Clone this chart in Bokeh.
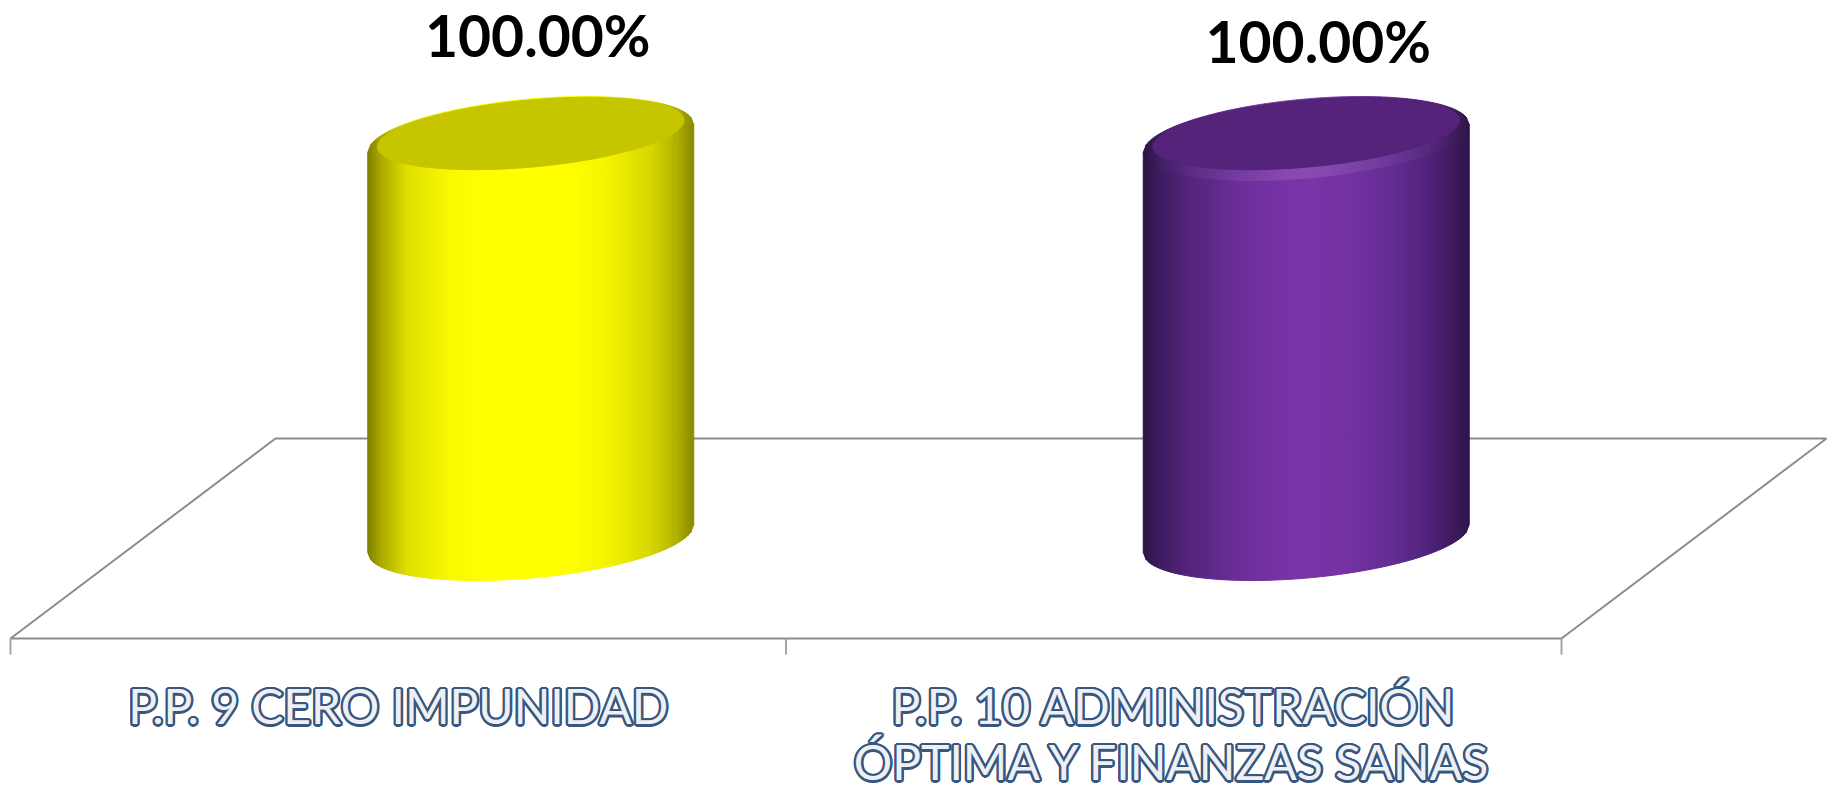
import numpy as np
from bokeh.plotting import figure
from bokeh.models import Range1d, ColumnDataSource
from bokeh.core.properties import value
from bokeh.embed import file_html
from bokeh.resources import INLINE

# ---------------- data ----------------
categories = ["P.P. 9 CERO IMPUNIDAD", "P.P. 10 ADMINISTRACIÓN\nÓPTIMA Y FINANZAS SANAS"]
percent_values = [100.0, 100.0]
value_labels = ["100.00%", "100.00%"]

# ---------------- styles / layout ----------------
YELLOW_STOPS = [(0.00, "#7d7d00"), (0.04, "#a8a800"), (0.12, "#dede00"), (0.25, "#f8f800"),
                (0.35, "#ffff00"), (0.62, "#ffff00"), (0.75, "#f2f200"), (0.87, "#d6d600"),
                (0.95, "#b0b000"), (1.00, "#8a8a00")]
PURPLE_STOPS = [(0.00, "#2b1245"), (0.05, "#3d1c60"), (0.15, "#56257f"), (0.30, "#6c2e9a"),
                (0.45, "#7834a8"), (0.60, "#7633a6"), (0.75, "#662d94"), (0.88, "#50237a"),
                (0.96, "#3c1a5c"), (1.00, "#2e1448")]
BODY_STOPS = [YELLOW_STOPS, PURPLE_STOPS]
FACE_COLORS = ["#c5c500", "#55247a"]
RIM_LIGHTEN = [0.0, 0.12]

W, H = 1834, 794
PX_X = 775.5          # pixels per category
PX_Y = 4.0            # pixels per percent
X0_PX = 10.0          # frame pixel of x = 0
Y0_PX = 538.0         # frame pixel (from top) of value 0
DEPTH_PX_X = 265.0    # horizontal shift of the floor depth
FLOOR_HALF_PX = 100.0 # half vertical depth of the floor
TICK_PX = 16.0

ELL_W, ELL_H, ELL_TILT = 163.0, 42.0, 14.0   # half width, half height, side-tangent offset (px)
_num = ELL_TILT * ELL_W
_d = ELL_W ** 2 - ELL_H ** 2
ELL_TH = 0.5 * np.arctan2(2 * _num, _d)
_diff = np.hypot(_d, 2 * _num)
_sum = ELL_W ** 2 + ELL_H ** 2
ELL_A, ELL_B = np.sqrt((_sum + _diff) / 2), np.sqrt((_sum - _diff) / 2)

EM_FIX = 0.39                                     # renderer baseline correction (em)
VAL_FS = 57
LABEL_NUDGE = [(7, -81), (12, -75)]             # value label offsets (px) from top centre (baseline)
CAT_FS = 48
CAT_BASE_PX = 186.0                               # first baseline below value 0 (px)
CAT_LINE_PX = 56.0

x_range = Range1d(-X0_PX / PX_X, (W - X0_PX) / PX_X)
y_range = Range1d(-(H - Y0_PX) / PX_Y, Y0_PX / PX_Y)

p = figure(width=W, height=H, x_range=x_range, y_range=y_range,
           output_backend="svg", toolbar_location=None, min_border=0)
p.axis.visible = False
p.grid.visible = False
p.outline_line_color = None
p.background_fill_color = "white"
p.border_fill_color = "white"

depth = DEPTH_PX_X / PX_X
fh = FLOOR_HALF_PX / PX_Y
n = len(categories)

# ---------------- floor ----------------
p.patch([0, n, n + depth, depth], [-fh, -fh, fh, fh], fill_color="white",
        line_color="#8c8c8c", line_width=2)
p.segment(x0=list(range(n + 1)), y0=[-fh] * (n + 1), x1=list(range(n + 1)),
          y1=[-fh - TICK_PX / PX_Y] * (n + 1), line_color="#a6a6a6", line_width=2)


# ---------------- helpers ----------------
def hex2rgb(h):
    h = h.lstrip("#")
    return np.array([int(h[i:i + 2], 16) for i in (0, 2, 4)], dtype=float)


def grad(stops, s, lighten=0.0):
    for (s0, c0), (s1, c1) in zip(stops[:-1], stops[1:]):
        if s <= s1:
            t = 0 if s1 == s0 else (s - s0) / (s1 - s0)
            c = hex2rgb(c0) * (1 - t) + hex2rgb(c1) * t
            break
    else:
        c = hex2rgb(stops[-1][1])
    c = c + (255 - c) * lighten
    return "#%02x%02x%02x" % tuple(int(round(min(255, max(0, v)))) for v in c)


def ell_lohi(u, A, B, th):
    s, c = np.sin(th), np.cos(th)
    a = s * s / A ** 2 + c * c / B ** 2
    b = 2 * u * s * c * (1 / A ** 2 - 1 / B ** 2)
    cc = u * u * (c * c / A ** 2 + s * s / B ** 2) - 1
    disc = np.maximum(b * b - 4 * a * cc, 0)
    return (-b - np.sqrt(disc)) / (2 * a), (-b + np.sqrt(disc)) / (2 * a), -b / (2 * a)


def ell_outline(A, B, th, m=160):
    t = np.linspace(0, 2 * np.pi, m)
    dx = A * np.cos(t) * np.cos(th) - B * np.sin(t) * np.sin(th)
    dy = A * np.cos(t) * np.sin(th) + B * np.sin(t) * np.cos(th)
    return dx, dy


NS = 110
edges = np.linspace(-ELL_W, ELL_W, NS + 1)

for i, v in enumerate(percent_values):
    cx = i + 0.5 + depth / 2
    lo, hi, mid = ell_lohi(edges, ELL_A, ELL_B, ELL_TH)
    xs_b, ys_b, cols_b = [], [], []
    xs_r, ys_r, cols_r = [], [], []
    for k in range(NS):
        u0, u1 = edges[k], edges[k + 1]
        s = ((u0 + u1) / 2 + ELL_W) / (2 * ELL_W)
        xa, xb = cx + u0 / PX_X, cx + u1 / PX_X
        xs_b.append([xa, xb, xb, xa])
        ys_b.append([lo[k] / PX_Y, lo[k + 1] / PX_Y, v + mid[k + 1] / PX_Y, v + mid[k] / PX_Y])
        cols_b.append(grad(BODY_STOPS[i], s))
        xs_r.append([xa, xb, xb, xa])
        ys_r.append([v + lo[k] / PX_Y, v + lo[k + 1] / PX_Y, v + hi[k + 1] / PX_Y, v + hi[k] / PX_Y])
        cols_r.append(grad(BODY_STOPS[i], s, RIM_LIGHTEN[i] * (1 - abs(2 * s - 1))))
    p.patches(xs_b, ys_b, fill_color=cols_b, line_color=cols_b, line_width=1)
    p.patches(xs_r, ys_r, fill_color=cols_r, line_color=cols_r, line_width=1)
    dx, dy = ell_outline(ELL_A * 0.94, ELL_B * 0.85, ELL_TH)
    p.patch(cx + dx / PX_X, v + (dy + 5) / PX_Y, fill_color=FACE_COLORS[i],
            line_color=FACE_COLORS[i], line_width=1)

# ---------------- value labels ----------------
for i, (v, lab) in enumerate(zip(percent_values, value_labels)):
    cx = i + 0.5 + depth / 2
    ox, oy = LABEL_NUDGE[i]
    p.text(x=[cx + ox / PX_X], y=[v + (-oy + EM_FIX * VAL_FS) / PX_Y], text=[lab], text_align="center",
           text_baseline="alphabetic", text_font=value("Lato"), text_font_style="bold",
           text_font_size=f"{VAL_FS}px", text_color="black")

# ---------------- category labels (outlined) ----------------
lx, ly, lt = [], [], []
for i, cat in enumerate(categories):
    for j, line in enumerate(cat.split("\n")):
        lx.append(i + 0.5)
        ly.append(-(CAT_BASE_PX + j * CAT_LINE_PX - EM_FIX * CAT_FS) / PX_Y)
        lt.append(line)
src = ColumnDataSource(dict(x=lx, y=ly, text=lt))
common = dict(x="x", y="y", text="text", source=src, text_align="center",
              text_baseline="alphabetic", text_font=value("Lato"), text_font_size=f"{CAT_FS}px")
p.text(x_offset=2, y_offset=2, text_color="#7f7f7f", text_alpha=0.35, **common)
for ang in np.linspace(0, 2 * np.pi, 16, endpoint=False):
    p.text(x_offset=2.3 * np.cos(ang), y_offset=2.3 * np.sin(ang), text_color="#375680", **common)
p.text(text_color="#eef0f4", **common)

open("out.html", "w").write(file_html(p, INLINE))
